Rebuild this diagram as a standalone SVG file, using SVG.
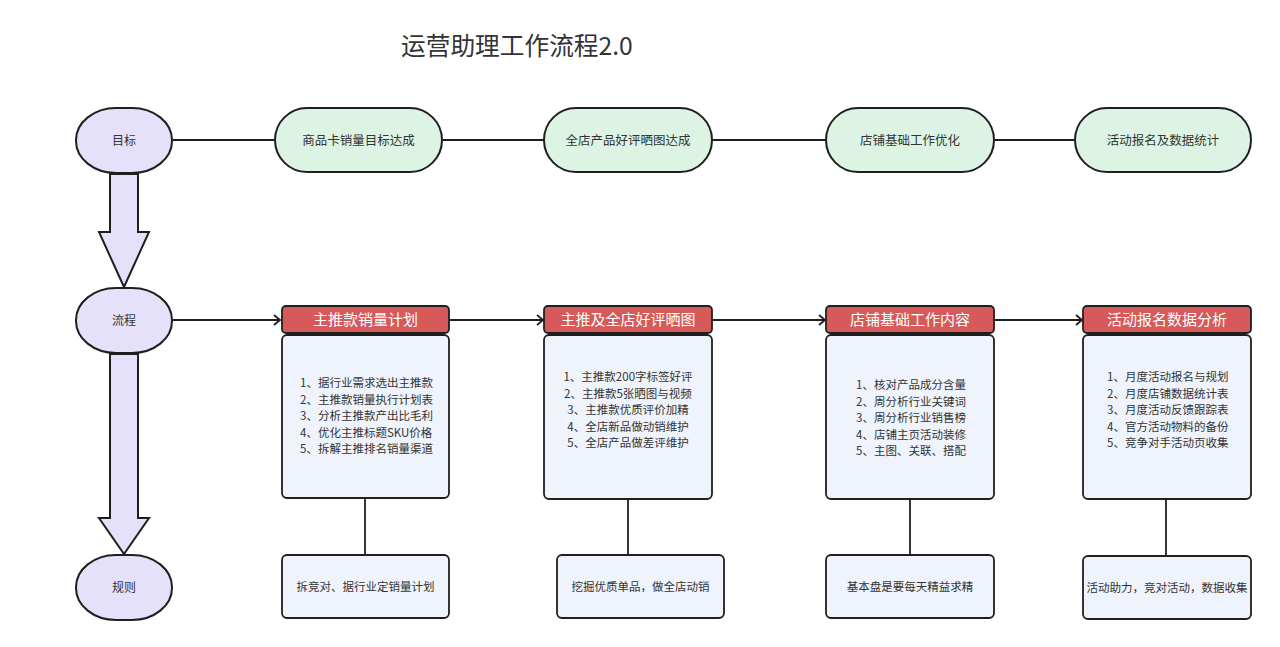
<svg xmlns="http://www.w3.org/2000/svg" width="1280" height="647" viewBox="0 0 1280 647">
<defs>
<style>
.t{font-family:"Noto Sans CJK SC","Noto Sans",sans-serif;fill:#333}
.purple{fill:#E6E1FA;stroke:#1f1f1f;stroke-width:2}
.green{fill:#DDF3E4;stroke:#1f1f1f;stroke-width:2}
.head{fill:#D65A5A;stroke:#1f1f1f;stroke-width:1.8}
.body{fill:#EEF3FC;stroke:#1f1f1f;stroke-width:1.8}
.ln{stroke:#1f1f1f;stroke-width:1.8;fill:none}
.lbl{font-size:12px;text-anchor:middle}
.gl{font-size:12.5px;text-anchor:middle}
.hl{font-size:15px;text-anchor:middle;fill:#fff}
.bl{font-size:11.5px}
</style>
<marker id="arr" markerWidth="12" markerHeight="12" refX="10" refY="6" orient="auto" markerUnits="userSpaceOnUse">
<path d="M4,1 L10,6 L4,11" fill="none" stroke="#1f1f1f" stroke-width="1.8"/>
</marker>
</defs>
<rect width="1280" height="647" fill="#fff"/>
<text class="t" x="401" y="55" font-size="24.7">运营助理工作流程2.0</text>

<g id="connectors">
<line class="ln" x1="173" y1="140" x2="275" y2="140"/>
<line class="ln" x1="443" y1="140" x2="544" y2="140"/>
<line class="ln" x1="713" y1="140" x2="826" y2="140"/>
<line class="ln" x1="995" y1="140" x2="1075" y2="140"/>
<line class="ln" x1="173" y1="320" x2="280" y2="320" marker-end="url(#arr)"/>
<line class="ln" x1="450" y1="320" x2="543" y2="320" marker-end="url(#arr)"/>
<line class="ln" x1="713" y1="320" x2="825" y2="320" marker-end="url(#arr)"/>
<line class="ln" x1="995" y1="320" x2="1082" y2="320" marker-end="url(#arr)"/>
<line class="ln" x1="365" y1="499" x2="365" y2="555"/>
<line class="ln" x1="628" y1="499" x2="628" y2="555"/>
<line class="ln" x1="910" y1="499" x2="910" y2="555"/>
<line class="ln" x1="1166" y1="499" x2="1166" y2="555"/>
<polygon class="purple" points="110,174 138,174 138,232 149,232 124,287 99,232 110,232"/>
<polygon class="purple" points="110,354 138,354 138,518 149,518 124,554 99,518 110,518"/>
</g>

<g id="goal"><rect class="purple" x="76" y="108" width="96" height="65" rx="40" ry="32"/><text class="t lbl" x="124" y="144.5">目标</text></g>
<g id="flow"><rect class="purple" x="76" y="288" width="96" height="65" rx="40" ry="32"/><text class="t lbl" x="124" y="324.5">流程</text></g>
<g id="rule"><rect class="purple" x="76" y="555" width="96" height="65" rx="40" ry="32"/><text class="t lbl" x="124" y="591.5">规则</text></g>

<g id="g1"><rect class="green" x="275" y="108" width="167" height="64" rx="32"/><text class="t gl" x="358.5" y="144.5">商品卡销量目标达成</text></g>
<g id="g2"><rect class="green" x="544" y="108" width="168" height="64" rx="32"/><text class="t gl" x="628" y="144.5">全店产品好评晒图达成</text></g>
<g id="g3"><rect class="green" x="826" y="108" width="168" height="64" rx="32"/><text class="t gl" x="910" y="144.5">店铺基础工作优化</text></g>
<g id="g4"><rect class="green" x="1075" y="108" width="176" height="64" rx="32"/><text class="t gl" x="1163" y="144.5">活动报名及数据统计</text></g>

<g id="p1">
<rect class="head" x="282" y="306" width="167" height="27" rx="4"/>
<text class="t hl" x="365.5" y="325">主推款销量计划</text>
<rect class="body" x="282" y="335" width="167" height="163" rx="5"/>
<text class="t bl" x="300"><tspan x="300" y="387">1、据行业需求选出主推款</tspan><tspan x="300" y="403.5">2、主推款销量执行计划表</tspan><tspan x="300" y="420">3、分析主推款产出比毛利</tspan><tspan x="300" y="436.5">4、优化主推标题SKU价格</tspan><tspan x="300" y="453">5、拆解主推排名销量渠道</tspan></text>
</g>
<g id="p2">
<rect class="head" x="544" y="306" width="168" height="27" rx="4"/>
<text class="t hl" x="628" y="325">主推及全店好评晒图</text>
<rect class="body" x="544" y="335" width="168" height="164" rx="5"/>
<text class="t bl" text-anchor="middle"><tspan x="628" y="381">1、主推款200字标签好评</tspan><tspan x="628" y="397.5">2、主推款5张晒图与视频</tspan><tspan x="628" y="414">3、主推款优质评价加精</tspan><tspan x="628" y="430.5">4、全店新品做动销维护</tspan><tspan x="628" y="447">5、全店产品做差评维护</tspan></text>
</g>
<g id="p3">
<rect class="head" x="826" y="306" width="168" height="27" rx="4"/>
<text class="t hl" x="910" y="325">店铺基础工作内容</text>
<rect class="body" x="826" y="335" width="168" height="164" rx="5"/>
<text class="t bl"><tspan x="856" y="389">1、核对产品成分含量</tspan><tspan x="856" y="405.5">2、周分析行业关键词</tspan><tspan x="856" y="422">3、周分析行业销售榜</tspan><tspan x="856" y="438.5">4、店铺主页活动装修</tspan><tspan x="856" y="455">5、主图、关联、搭配</tspan></text>
</g>
<g id="p4">
<rect class="head" x="1083" y="306" width="168" height="27" rx="4"/>
<text class="t hl" x="1167" y="325">活动报名数据分析</text>
<rect class="body" x="1083" y="335" width="168" height="164" rx="5"/>
<text class="t bl"><tspan x="1107" y="381">1、月度活动报名与规划</tspan><tspan x="1107" y="397.5">2、月度店铺数据统计表</tspan><tspan x="1107" y="414">3、月度活动反馈跟踪表</tspan><tspan x="1107" y="430.5">4、官方活动物料的备份</tspan><tspan x="1107" y="447">5、竞争对手活动页收集</tspan></text>
</g>

<g id="r1"><rect class="body" x="282" y="555" width="167" height="63" rx="5"/><text class="t bl" text-anchor="middle" x="365.5" y="591">拆竞对、据行业定销量计划</text></g>
<g id="r2"><rect class="body" x="557" y="555" width="167" height="63" rx="5"/><text class="t bl" text-anchor="middle" x="640.5" y="591">挖掘优质单品，做全店动销</text></g>
<g id="r3"><rect class="body" x="826" y="555" width="168" height="63" rx="5"/><text class="t bl" text-anchor="middle" x="910" y="591">基本盘是要每天精益求精</text></g>
<g id="r4"><rect class="body" x="1083" y="556" width="168" height="63" rx="5"/><text class="t bl" text-anchor="middle" x="1167" y="592">活动助力，竞对活动，数据收集</text></g>
</svg>
